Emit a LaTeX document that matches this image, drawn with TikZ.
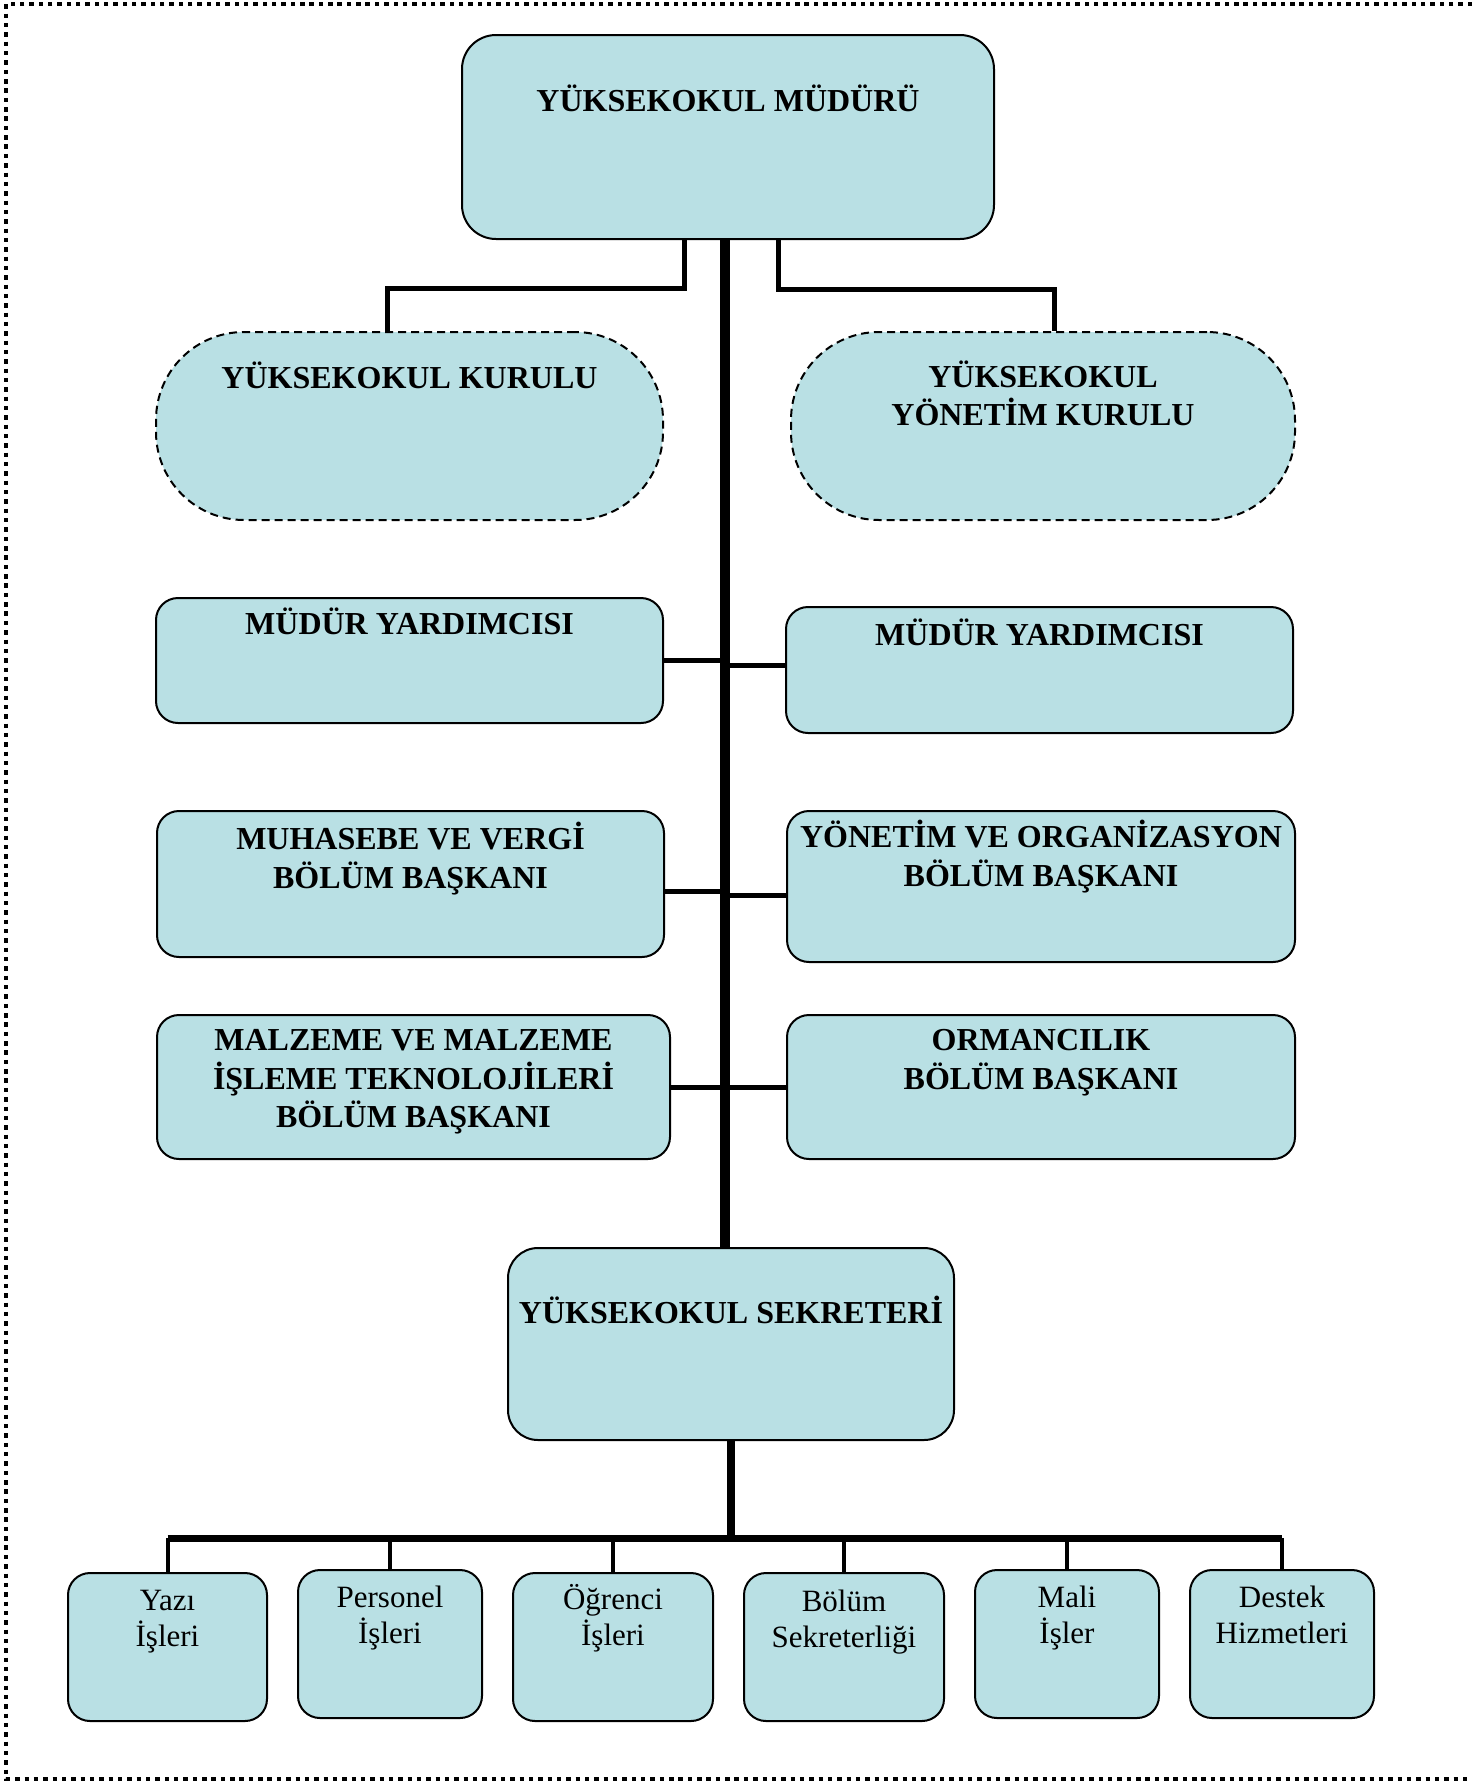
\documentclass[tikz,border=0pt]{standalone}
\usepackage{fontspec}
\setmainfont{Liberation Serif}
\usetikzlibrary{positioning}
\definecolor{boxblue}{RGB}{185,224,228}

\begin{document}
\begin{tikzpicture}[x=0.5pt,y=-0.5pt,
		box/.style={draw, line width=1pt, fill=boxblue, rounded corners=11pt},
		board/.style={box, dash pattern=on 4pt off 2.5pt, rounded corners=44pt},
		ttl/.style={anchor=north, inner sep=0pt, align=center, font=\bfseries\fontsize{16}{19.3}\selectfont},
		sub/.style={anchor=north, inner sep=0pt, align=center, font=\fontsize{15.5}{18}\selectfont},
		conn/.style={line width=2.5pt},
		trunk/.style={line width=5pt}]

		\useasboundingbox (0,0) rectangle (1472,1784);
		\draw[line width=2.2pt, dash pattern=on 2.2pt off 2.47pt] (1472,4) -- (6,4) -- (6,1779) -- (1472,1779);

		\node[box, rounded corners=17pt, minimum width=266pt, minimum height=102pt,
			label={[ttl, yshift=-25pt]north:YÜKSEKOKUL MÜDÜRÜ}] (mudur) at (728,137) {};

		\node[board, minimum width=253.5pt, minimum height=94pt,
			label={[ttl, yshift=-15pt]north:YÜKSEKOKUL KURULU}] (kurul) at (409.5,426) {};
		\node[board, minimum width=252pt, minimum height=94pt,
			label={[ttl, yshift=-14.5pt]north:YÜKSEKOKUL\\YÖNETİM KURULU}] (yonk) at (1043,426) {};

		\node[box, minimum width=253.5pt, minimum height=62.5pt,
			label={[ttl, yshift=-5pt]north:MÜDÜR YARDIMCISI}] (myl) at (409.5,660.5) {};
		\node[box, minimum width=253.5pt, minimum height=63pt,
			label={[ttl, yshift=-6pt]north:MÜDÜR YARDIMCISI}] (myr) at (1039.5,670) {};

		\node[box, minimum width=253.5pt, minimum height=73pt,
			label={[ttl, yshift=-6pt]north:MUHASEBE VE VERGİ\\BÖLÜM BAŞKANI}] (muh) at (410.5,884) {};
		\node[box, minimum width=254pt, minimum height=75.5pt,
			label={[ttl, yshift=-5pt]north:YÖNETİM VE ORGANİZASYON\\BÖLÜM BAŞKANI}] (yon) at (1041,886.5) {};

		\node[box, minimum width=256.5pt, minimum height=72pt,
			label={[ttl, yshift=-7.5pt]north:MALZEME VE MALZEME\\İŞLEME TEKNOLOJİLERİ\\BÖLÜM BAŞKANI}] (malz) at (413.5,1087) {};
		\node[box, minimum width=254pt, minimum height=72pt,
			label={[ttl, yshift=-7.5pt]north:ORMANCILIK\\BÖLÜM BAŞKANI}] (orm) at (1041,1087) {};

		\node[box, rounded corners=15pt, minimum width=223pt, minimum height=96pt,
			label={[ttl, yshift=-24.5pt]north:YÜKSEKOKUL SEKRETERİ}] (sekr) at (731,1344) {};

		% birimler
		\node[box, minimum width=99.5pt, minimum height=74pt,
			label={[sub, yshift=-9pt]north:Yazı\\İşleri}] (yazi) at (167.5,1647) {};
		\node[box, minimum width=92pt, minimum height=74pt,
			label={[sub, yshift=-8.5pt]north:Personel\\İşleri}] (pers) at (390,1644) {};
		\node[box, minimum width=100pt, minimum height=74pt,
			label={[sub, yshift=-6pt]north:Öğrenci\\İşleri}] (ogr) at (613,1647) {};
		\node[box, minimum width=100pt, minimum height=74pt,
			label={[sub, yshift=-9pt]north:Bölüm\\Sekreterliği}] (bol) at (844,1647) {};
		\node[box, minimum width=92pt, minimum height=74pt,
			label={[sub, yshift=-8.5pt]north:Mali\\İşler}] (mali) at (1067,1644) {};
		\node[box, minimum width=92pt, minimum height=74pt,
			label={[sub, yshift=-8.5pt]north:Destek\\Hizmetleri}] (destek) at (1282,1644) {};

		\coordinate (tr) at ([xshift=-1.5pt]mudur.south);
		\draw[trunk] (tr) -- (tr |- sekr.north);
		\draw[conn] ([xshift=-22pt]mudur.south) -- ++(0,48) -| ([xshift=-11pt]kurul.north);
		\draw[conn] ([xshift=25pt]mudur.south) -- ++(0,49) -| ([xshift=5.5pt]yonk.north);
		\foreach \n/\d in {myl/0,muh/-3.5,malz/0}
			\draw[conn] ([yshift=\d pt]\n.east) coordinate (p) -- (p -| tr);
		\foreach \n/\d in {myr/2.5,yon/-4.25,orm/0}
			\draw[conn] ([yshift=\d pt]\n.west) coordinate (p) -- (p -| tr);

		\coordinate (bar) at (729,1538);
		\draw[line width=4pt] (sekr.south) -- (sekr.south |- bar);
		\draw[line width=3.5pt] (yazi.north |- bar) -- (destek.north |- bar);
		\foreach \n in {yazi,pers,ogr,bol,mali,destek}
			\draw[line width=2pt] (\n.north) -- (\n.north |- bar);

	\end{tikzpicture}
\end{document}
